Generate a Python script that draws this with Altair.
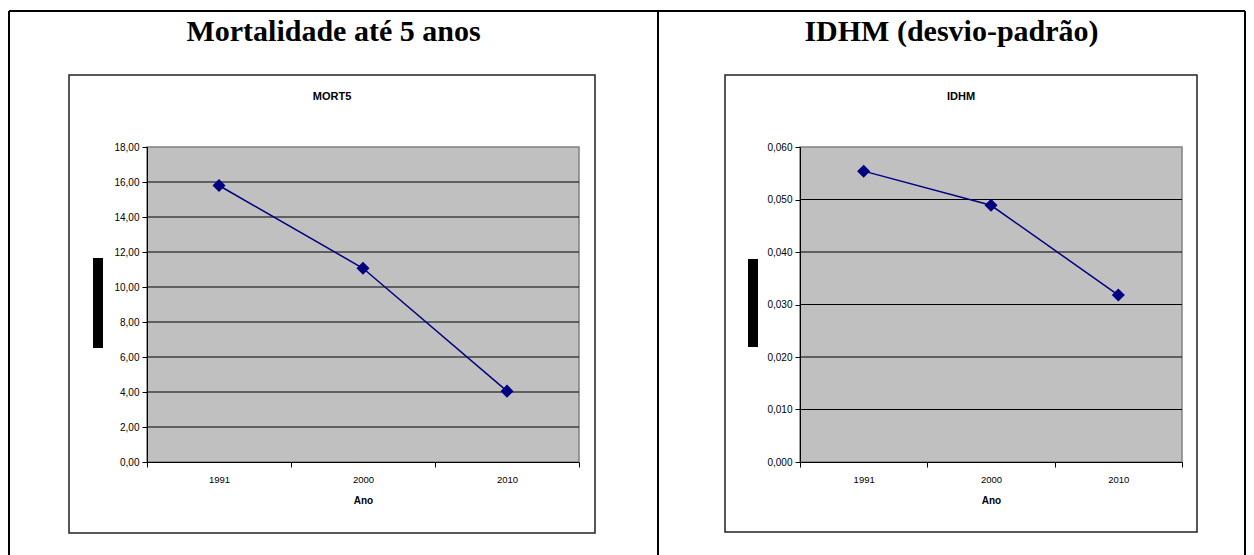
import altair as alt
import pandas as pd

# ---- data ----
years = ["1991", "2000", "2010"]
mort5 = [15.8, 11.07, 4.05]
idhm = [0.0554, 0.0489, 0.0318]
mort5_ticks = [0, 2, 4, 6, 8, 10, 12, 14, 16, 18]
idhm_ticks = [0.0, 0.01, 0.02, 0.03, 0.04, 0.05, 0.06]
headers = ["Mortalidade até 5 anos", "IDHM (desvio-padrão)"]
chart_titles = ["MORT5", "IDHM"]
x_title = "Ano"

W, H = 1254, 555
TOP, BOTTOM = 147, 462
NAVY = "#000080"
SANS = "Liberation Sans"
one = pd.DataFrame({"a": [0]})


def vrect(x0, x1, y0, y1, **kw):
    return alt.Chart(one).mark_rect(**kw).encode(
        x=alt.value(x0), x2=alt.value(x1), y=alt.value(y0), y2=alt.value(y1)
    )


def label(text, x, y, **kw):
    return alt.Chart(pd.DataFrame({"t": [text]})).mark_text(**kw).encode(
        text="t:N", x=alt.value(x), y=alt.value(y)
    )


def panel(vals, ticks, decimals, plot_x, box, bar, title):
    x0, x1 = plot_x
    df = pd.DataFrame({"Ano": years, "v": vals})
    xs = alt.Scale(domain=years, range=[x0, x1], paddingInner=0, paddingOuter=0)
    ys = alt.Scale(domain=[ticks[0], ticks[-1]], range=[BOTTOM, TOP], nice=False, zero=True)
    label_expr = f"replace(format(datum.value, '.{decimals}f'), '.', ',')"
    xaxis = alt.Axis(
        orient="bottom", offset=-(H - BOTTOM), title=x_title, tickBand="extent",
        labelAngle=0, tickSize=5, labelPadding=7, titlePadding=12,
        titleFontSize=10, titleFontWeight="bold", titleFont=SANS, titleColor="black",
        labelFont=SANS, labelFontSize=9.5, labelColor="black",
        domainColor="black", tickColor="black", grid=False, zindex=2,
    )
    yaxis = alt.Axis(
        orient="left", offset=-x0, values=ticks, labelExpr=label_expr, title=None,
        grid=False, tickSize=5, labelPadding=3, labelFont=SANS, labelFontSize=10,
        labelColor="black", domainColor="black", tickColor="black", zindex=2,
    )
    box_layer = vrect(box[0], box[1], box[2], box[3], fill="white", stroke="#222222", strokeWidth=1.5)
    bar_layer = vrect(bar[0], bar[1], bar[2], bar[3], fill="black")
    title_layer = label(title, (box[0] + box[1]) / 2, 97, font=SANS, fontSize=11,
                        fontWeight="bold", color="black", align="center", baseline="middle")
    bg = vrect(x0, x1, TOP, BOTTOM, fill="#C0C0C0", stroke="#808080", strokeWidth=1.5)
    grid = alt.Chart(pd.DataFrame({"v": ticks[1:-1]})).mark_rule(color="black", strokeWidth=1).encode(
        y=alt.Y("v:Q", scale=ys, axis=yaxis), x=alt.value(x0), x2=alt.value(x1)
    )
    line = alt.Chart(df).mark_line(color=NAVY, strokeWidth=1.5).encode(
        x=alt.X("Ano:N", scale=xs, axis=xaxis, sort=years),
        y=alt.Y("v:Q", scale=ys, axis=yaxis),
    )
    pts = alt.Chart(df).mark_point(shape="diamond", filled=True, color=NAVY, size=170, opacity=1).encode(
        x=alt.X("Ano:N", scale=xs, axis=xaxis, sort=years),
        y=alt.Y("v:Q", scale=ys, axis=yaxis),
    )
    return alt.layer(box_layer, bar_layer, title_layer, bg, grid, line, pts)


left = panel(mort5, mort5_ticks, 2, (147, 579), (69, 595, 75, 533), (93, 103, 258, 348), chart_titles[0])
right = panel(idhm, idhm_ticks, 3, (800, 1182), (725, 1197, 75, 532), (748, 758, 259, 347), chart_titles[1])

# table frame
frame = [
    alt.Chart(one).mark_rule(color="black", strokeWidth=2).encode(
        x=alt.value(9), x2=alt.value(1245), y=alt.value(11)),
    alt.Chart(one).mark_rule(color="black", strokeWidth=2).encode(
        x=alt.value(9), y=alt.value(11), y2=alt.value(H)),
    alt.Chart(one).mark_rule(color="black", strokeWidth=2).encode(
        x=alt.value(658), y=alt.value(11), y2=alt.value(H)),
    alt.Chart(one).mark_rule(color="black", strokeWidth=2).encode(
        x=alt.value(1245), y=alt.value(11), y2=alt.value(H)),
]
head = [
    label(headers[0], 333.5, 32, font="Liberation Serif", fontSize=30, fontWeight="bold",
          color="black", align="center", baseline="middle"),
    label(headers[1], 951.5, 32, font="Liberation Serif", fontSize=30, fontWeight="bold",
          color="black", align="center", baseline="middle"),
]

chart = alt.layer(*frame, *head, left, right).resolve_scale(
    x="independent", y="independent"
).resolve_axis(x="independent", y="independent").properties(
    width=W, height=H, autosize=alt.AutoSizeParams(type="none"), padding=0,
    background="white",
).configure_view(stroke=None)

chart.save("out.html", embed_options={"renderer": "svg", "actions": False})
